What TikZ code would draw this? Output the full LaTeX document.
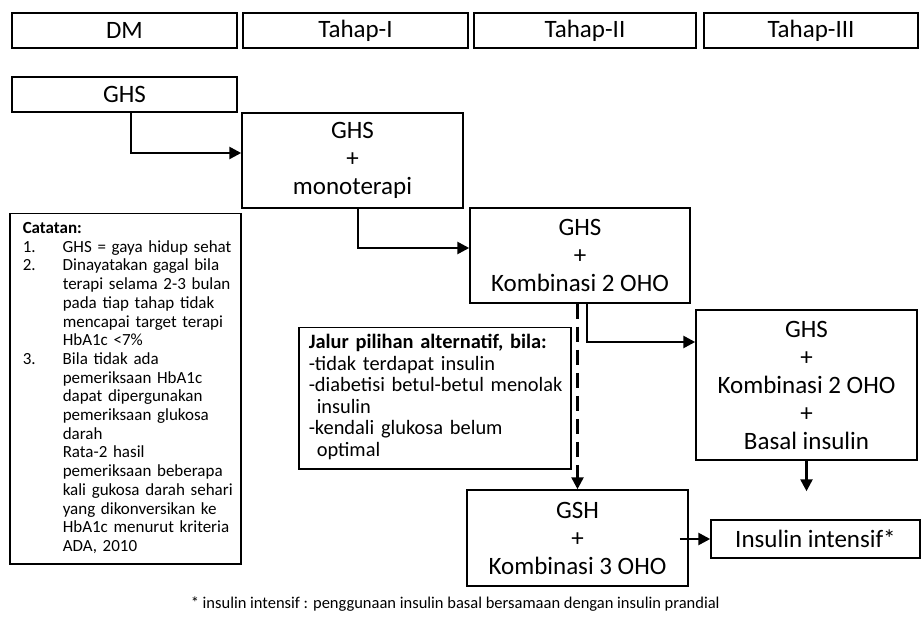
\documentclass[tikz,border=0pt]{standalone}
\usepackage{fontspec}
\setmainfont{Carlito}
\usetikzlibrary{arrows.meta}

\newcommand{\nnum}[1]{\makebox[40pt][l]{#1}}
\newcommand{\nind}{\hspace*{40pt}}

\begin{document}
\begin{tikzpicture}[x=1pt, y=-1pt,
   every node/.style={draw, line width=1.5pt, inner sep=0pt, align=center,
                      font=\fontsize{25}{28}\selectfont},
   stage/.style={minimum height=35pt},
   therapy/.style={minimum width=221pt, minimum height=95pt},
   flow/.style={line width=2.6pt, -{Triangle[length=12pt,width=12pt]}},
   altflow/.style={flow, dash pattern=on 15pt off 8pt}]

\useasboundingbox (0,0) rectangle (923,617);

\node[stage, minimum width=225pt] (dm)    at (124.5,30.5) {DM};
\node[stage, minimum width=225pt] (tahap1) at (355.5,30.5) {Tahap-I};
\node[stage, minimum width=222pt] (tahap2) at (585,30.5)  {Tahap-II};
\node[stage, minimum width=214pt] (tahap3) at (811,30.5)  {Tahap-III};

\node[stage, minimum width=225pt] (ghs) at (124.5,94.5) {GHS};
\node[therapy] (mono)  at (352.5,160.5) {GHS\\+\\monoterapi};
\node[therapy, minimum width=220pt] (komb2) at (580,255.5) {GHS\\+\\Kombinasi 2 OHO};
\node[therapy, minimum height=150pt] (basal) at (806.5,385) {GHS\\+\\Kombinasi 2 OHO\\+\\Basal insulin};
\node[therapy, minimum height=96pt] (komb3) at (577.5,538) {GSH\\+\\Kombinasi 3 OHO};
\node[stage, minimum width=209pt, minimum height=38pt] (intensif) at (815.5,539) {Insulin intensif*};

\node[anchor=north west, minimum height=350pt, text width=205pt, inner xsep=13pt, align=left,
      font=\fontsize{17}{18.7}\selectfont] (catatan) at (9,213) {%
  \begin{tabular}{@{}l@{}}
  \textbf{Catatan:}\\
  \nnum{1.}GHS = gaya hidup sehat\\
  \nnum{2.}Dinayatakan gagal bila\\
  \nind terapi selama 2-3 bulan\\
  \nind pada tiap tahap tidak\\
  \nind mencapai target terapi\\
  \nind HbA1c <7\%\\
  \nnum{3.}Bila tidak ada\\
  \nind pemeriksaan HbA1c\\
  \nind dapat dipergunakan\\
  \nind pemeriksaan glukosa\\
  \nind darah\\
  \nind Rata-2 hasil\\
  \nind pemeriksaan beberapa\\
  \nind kali gukosa darah sehari\\
  \nind yang dikonversikan ke\\
  \nind HbA1c menurut kriteria\\
  \nind ADA, 2010
  \end{tabular}};

\node[anchor=north west, minimum height=141pt, text width=252pt, inner xsep=10pt, align=left,
      font=\fontsize{20.4}{21.5}\selectfont] (alternatif) at (298,327) {%
  \begin{tabular}{@{}l@{}}
  \textbf{Jalur pilihan alternatif, bila:}\\
  -tidak terdapat insulin\\
  -diabetisi betul-betul menolak\\
  \hspace*{8pt}insulin\\
  -kendali glukosa belum\\
  \hspace*{8pt}optimal
  \end{tabular}};

\node[draw=none, anchor=west, font=\fontsize{16.5}{18}\selectfont] (catatankaki) at (190,604)
  {* insulin intensif : penggunaan insulin basal bersamaan dengan insulin prandial};

\draw[flow] ([xshift=6.5pt]ghs.south) |- ([yshift=7.5pt]mono.west);
\draw[flow] ([xshift=5.5pt]mono.south) |- ([yshift=7.5pt]komb2.west);
\draw[flow] ([xshift=7pt]komb2.south) |- ([yshift=43pt]basal.west);
\draw[altflow] (komb2.south -| komb3.north) -- (komb3.north);
\draw[flow] (basal.south) -- ([yshift=28pt]intensif.north -| basal.south);
\draw[flow] ([xshift=-9pt]komb3.east |- intensif.west) -- (intensif.west);

\end{tikzpicture}
\end{document}
